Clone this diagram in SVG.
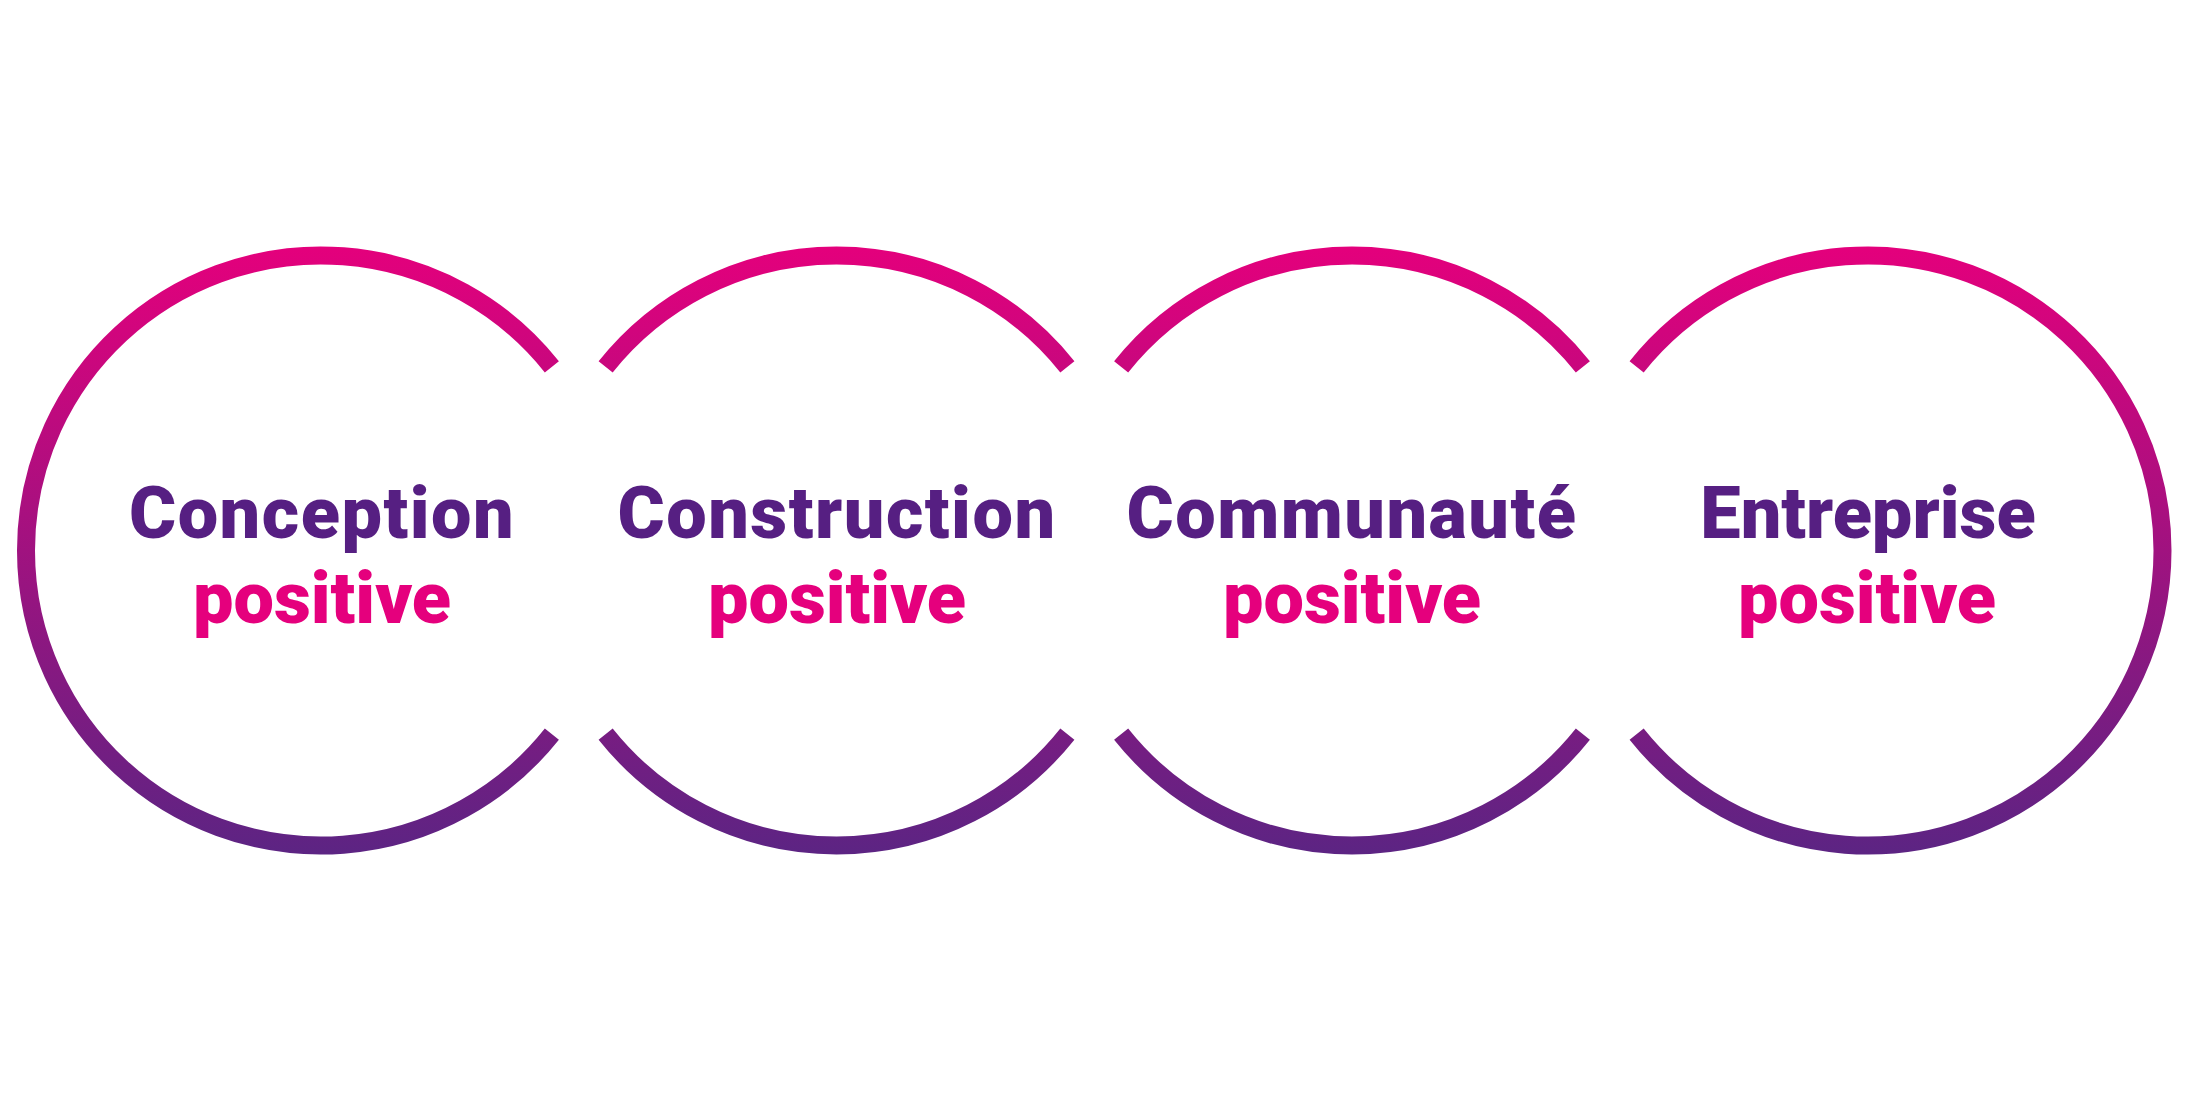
<svg xmlns="http://www.w3.org/2000/svg" width="2188" height="1094" viewBox="0 0 2188 1094">
  <defs>
    <linearGradient id="ring" gradientUnits="userSpaceOnUse" x1="0" y1="246" x2="0" y2="855">
      <stop offset="0" stop-color="#E4007C"/>
      <stop offset="1" stop-color="#5C2483"/>
    </linearGradient>
  </defs>
  <style>
    .ring { fill: none; stroke: url(#ring); stroke-width: 18; stroke-linecap: butt; }
    .title, .sub { font-family: Roboto, "Liberation Sans", sans-serif; font-weight: 900; font-size: 72px; letter-spacing: 1.5px; text-anchor: middle; }
    .title { fill: #561F82; }
    .sub { fill: #E5007D; letter-spacing: 0px; }
    .tight { letter-spacing: 0px; }
  </style>
  <rect width="2188" height="1094" fill="#FFFFFF"/>
  <g id="node-conception">
    <path class="ring" d="M551.87 734.14 A295 295 0 1 1 551.87 366.86"/>
    <text class="title" x="322" y="538">Conception</text>
    <text class="sub" x="322" y="623">positive</text>
  </g>
  <g id="node-construction">
    <path class="ring" d="M605.63 366.86 A295 295 0 0 1 1067.37 366.86"/>
    <path class="ring" d="M1067.37 734.14 A295 295 0 0 1 605.63 734.14"/>
    <text class="title" x="837" y="538">Construction</text>
    <text class="sub" x="837" y="623">positive</text>
  </g>
  <g id="node-communaute">
    <path class="ring" d="M1121.13 366.86 A295 295 0 0 1 1582.87 366.86"/>
    <path class="ring" d="M1582.87 734.14 A295 295 0 0 1 1121.13 734.14"/>
    <text class="title" x="1352" y="538">Communauté</text>
    <text class="sub" x="1352" y="623">positive</text>
  </g>
  <g id="node-entreprise">
    <path class="ring" d="M1636.63 366.86 A295 295 0 1 1 1636.63 734.14"/>
    <text class="title tight" x="1868" y="538">Entreprise</text>
    <text class="sub" x="1867" y="623">positive</text>
  </g>
</svg>
